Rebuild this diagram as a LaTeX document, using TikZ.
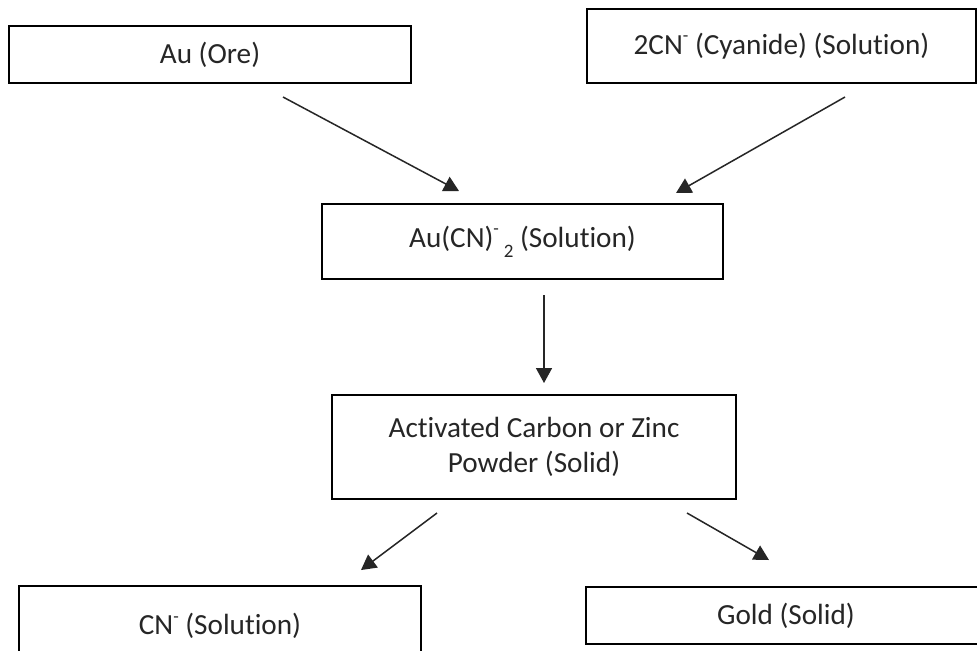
\documentclass[tikz,border=0pt]{standalone}
\usepackage{fontspec}
\setmainfont[RawFeature={-liga}]{Carlito}
\usetikzlibrary{arrows.meta}
\newcommand{\supminus}{\raisebox{0.9ex}{\fontsize{9}{9}\selectfont -}}
\newcommand{\subtwo}{\raisebox{-0.7ex}{\fontsize{9.5}{9.5}\selectfont 2}}
\tikzset{
  boxnode/.style={draw=black, line width=1pt, rectangle, inner sep=0pt, align=center,
    font=\fontsize{14.6}{17.5}\selectfont, text=black!85},
  flowarrow/.style={draw=black!85, line width=0.75pt, -{Triangle[length=7.5pt,width=8pt]}}
}
\begin{document}
\begin{tikzpicture}[x=0.5pt,y=-0.5pt]
\useasboundingbox (0,0) rectangle (977,650);
\clip (0,0) rectangle (977,650);
\fill[white] (0,0) rectangle (977,650);

\node[boxnode, minimum width=201pt, minimum height=28.5pt] (ore) at (210,54.5) {Au (Ore)};
\node[boxnode, minimum width=194.5pt, minimum height=37pt] (cyan) at (781.5,46) {2CN\supminus{} (Cyanide) (Solution)};
\node[boxnode, minimum width=200.5pt, minimum height=37.5pt] (aucn) at (522.5,241.5) {Au(CN)\supminus\,\subtwo{} (Solution)};
\node[boxnode, minimum width=202pt, minimum height=52pt] (act) at (534,447) {Activated Carbon or Zinc\\Powder (Solid)};
\node[boxnode, minimum width=201pt, minimum height=40pt] (cn) at (220,626) {CN\supminus{} (Solution)};
\node[boxnode, minimum width=200pt, minimum height=28.5pt] (gold) at (786,615.5) {Gold (Solid)};

\coordinate (a1s) at (283,97);
\coordinate (a1e) at (459,191);
\coordinate (a2s) at (845,97);
\coordinate (a2e) at (676,193);
\coordinate (a3s) at (544,295);
\coordinate (a3e) at (544,383);
\coordinate (a4s) at (437,513);
\coordinate (a4e) at (361,570);
\coordinate (a5s) at (687,513);
\coordinate (a5e) at (769,560);

\draw[flowarrow] (a1s) -- (a1e);
\draw[flowarrow] (a2s) -- (a2e);
\draw[flowarrow] (a3s) -- (a3e);
\draw[flowarrow] (a4s) -- (a4e);
\draw[flowarrow] (a5s) -- (a5e);
\end{tikzpicture}
\end{document}
